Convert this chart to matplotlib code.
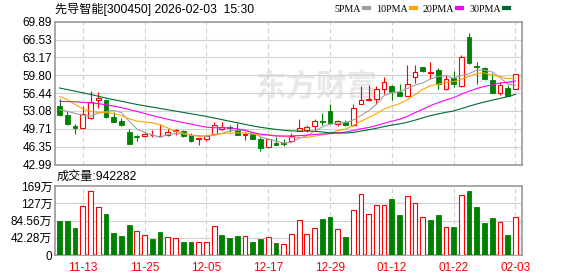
import matplotlib
matplotlib.use("Agg")
import matplotlib.pyplot as plt
from matplotlib.lines import Line2D
import numpy as np

plt.rcParams['font.family'] = ['Liberation Sans', 'Noto Sans CJK SC', 'DejaVu Sans']

title = "先导智能[300450] 2026-02-03  15:30"

dates = ["11-10", "11-11", "11-12", "11-13", "11-14", "11-17", "11-18", "11-19", "11-20", "11-21",
         "11-24", "11-25", "11-26", "11-27", "11-28", "12-01", "12-02", "12-03", "12-04", "12-05",
         "12-08", "12-09", "12-10", "12-11", "12-12", "12-15", "12-16", "12-17", "12-18", "12-19",
         "12-22", "12-23", "12-24", "12-25", "12-26", "12-29", "12-30", "12-31", "01-05", "01-06",
         "01-07", "01-08", "01-09", "01-12", "01-13", "01-14", "01-15", "01-16", "01-19", "01-20",
         "01-21", "01-22", "01-23", "01-26", "01-27", "01-28", "01-29", "01-30", "02-02", "02-03"]
label_dates = ["11-13", "11-25", "12-05", "12-17", "12-29", "01-12", "01-22", "02-03"]

opens = [54.07, 52.33, 50.15, 49.84, 51.71, 55.20, 55.13, 52.02, 51.27, 49.16,
         48.29, 48.29, 48.47, 48.35, 48.47, 49.35, 49.22, 48.54, 47.73, 47.73,
         48.72, 49.72, 50.09, 49.53, 48.60, 48.72, 47.85, 46.36, 47.10, 47.00,
         47.50, 49.27, 49.40, 50.19, 51.20, 53.12, 50.68, 50.98, 50.50, 54.33,
         55.20, 55.37, 57.20, 57.81, 56.60, 55.80, 59.52, 61.28, 60.30, 60.86,
         57.30, 59.33, 57.69, 67.08, 61.60, 61.16, 58.85, 56.40, 57.39, 57.20]
highs = [55.32, 53.02, 50.65, 54.07, 56.75, 56.56, 55.32, 52.83, 51.71, 49.59,
         48.54, 48.97, 49.41, 50.65, 49.72, 49.72, 49.53, 48.97, 48.04, 48.60,
         51.09, 50.96, 50.47, 50.78, 49.10, 48.97, 48.17, 47.85, 48.23, 47.85,
         48.90, 51.53, 50.50, 51.53, 52.63, 54.46, 51.41, 51.41, 54.46, 57.81,
         57.93, 57.81, 59.50, 58.00, 58.20, 61.65, 61.65, 61.40, 62.26, 61.16,
         59.94, 60.67, 63.70, 67.75, 62.26, 61.28, 60.25, 58.60, 57.93, 60.06]
lows = [52.08, 50.34, 48.79, 49.84, 51.60, 53.58, 51.77, 51.00, 50.15, 46.80,
        47.35, 48.17, 48.10, 48.17, 48.29, 48.47, 48.17, 47.23, 46.74, 47.42,
        48.60, 49.53, 49.10, 48.47, 47.54, 47.70, 45.49, 46.30, 46.70, 46.50,
        47.30, 49.27, 49.20, 49.27, 50.50, 50.68, 50.19, 50.19, 50.20, 54.33,
        54.95, 54.46, 56.30, 55.07, 55.80, 55.80, 58.40, 60.43, 59.03, 57.20,
        57.00, 57.50, 57.60, 61.95, 58.12, 58.85, 56.40, 56.10, 55.80, 57.20]
closes = [52.39, 50.53, 49.95, 52.52, 54.82, 55.51, 52.02, 51.09, 50.34, 46.86,
          48.10, 48.79, 48.55, 48.42, 49.10, 49.40, 48.35, 47.35, 48.00, 48.29,
          50.47, 50.03, 49.90, 48.60, 48.70, 47.73, 46.11, 47.73, 46.73, 46.90,
          48.35, 49.95, 50.05, 51.10, 51.00, 50.80, 51.10, 50.37, 53.70, 55.07,
          55.30, 57.14, 58.60, 56.60, 55.90, 58.24, 60.43, 60.55, 60.40, 58.12,
          59.03, 58.12, 63.17, 62.08, 61.40, 59.03, 56.40, 57.93, 55.98, 60.06]
# volume in 万
volumes = [84.1, 84.1, 66.2, 120.1, 156.9, 117.6, 100.5, 53.9, 46.6, 73.5,
           58.8, 49.0, 39.2, 56.4, 44.9, 41.7, 31.9, 31.9, 31.0, 31.0,
           70.3, 49.0, 41.7, 46.6, 45.8, 31.9, 39.2, 43.3, 29.4, 26.1,
           50.7, 85.8, 50.7, 65.4, 87.4, 92.3, 63.7, 44.1, 109.5, 148.7,
           99.7, 121.7, 121.7, 137.3, 98.0, 143.8, 126.6, 92.3, 85.8, 98.0,
           67.8, 68.6, 146.2, 156.9, 117.6, 78.4, 90.7, 80.1, 49.0, 94.23]

ma5 = [53.30, 53.00, 52.60, 52.30, 52.04, 52.67, 52.96, 53.19, 52.76, 51.16,
       49.68, 49.04, 48.53, 48.14, 48.59, 48.85, 48.76, 48.52, 48.44, 48.28,
       48.49, 48.83, 49.34, 49.46, 49.54, 48.99, 48.21, 47.77, 47.40, 47.04,
       47.16, 47.93, 48.40, 49.27, 50.09, 50.58, 50.81, 50.87, 51.39, 52.21,
       53.11, 54.32, 55.96, 56.54, 56.71, 57.30, 57.95, 58.34, 59.10, 59.55,
       59.71, 59.24, 59.77, 60.10, 60.76, 60.76, 60.42, 59.37, 58.15, 57.88]
ma10 = [55.80, 55.20, 54.30, 53.50, 53.00, 52.80, 52.75, 52.60, 52.20, 51.60,
        51.17, 51.00, 50.86, 50.45, 49.88, 49.27, 48.90, 48.53, 48.29, 48.44,
        48.67, 48.80, 48.93, 48.95, 48.91, 48.74, 48.52, 48.56, 48.43, 48.29,
        48.08, 48.07, 48.09, 48.34, 48.57, 48.87, 49.37, 49.64, 50.33, 51.15,
        51.84, 52.56, 53.42, 53.97, 54.46, 55.20, 56.14, 57.15, 57.82, 58.13,
        58.50, 58.60, 59.06, 59.60, 60.15, 60.23, 59.83, 59.57, 59.13, 59.32]
ma20 = [54.90, 54.85, 54.80, 54.70, 54.60, 54.45, 54.25, 54.00, 53.70, 53.35,
        53.00, 52.60, 52.20, 51.85, 51.50, 51.20, 50.90, 50.60, 50.30, 50.02,
        49.92, 49.90, 49.90, 49.70, 49.39, 49.00, 48.71, 48.54, 48.36, 48.36,
        48.38, 48.43, 48.51, 48.64, 48.74, 48.81, 48.94, 49.10, 49.38, 49.72,
        49.96, 50.32, 50.75, 51.15, 51.51, 52.04, 52.75, 53.39, 54.08, 54.64,
        55.17, 55.58, 56.24, 56.79, 57.31, 57.72, 57.98, 58.36, 58.47, 58.72]
ma30 = [57.40, 57.10, 56.80, 56.50, 56.20, 55.85, 55.50, 55.20, 54.90, 54.60,
        54.30, 54.05, 53.80, 53.55, 53.30, 53.05, 52.80, 52.55, 52.30, 52.05,
        51.75, 51.45, 51.15, 50.85, 50.55, 50.25, 50.00, 49.80, 49.60, 49.44,
        49.31, 49.29, 49.29, 49.24, 49.12, 48.96, 48.93, 48.91, 49.02, 49.29,
        49.53, 49.81, 50.14, 50.42, 50.64, 50.94, 51.34, 51.78, 52.19, 52.52,
        52.81, 53.08, 53.52, 53.97, 54.39, 54.77, 55.11, 55.45, 55.76, 56.20]

price_ticks = [42.99, 46.35, 49.71, 53.08, 56.44, 59.80, 63.17, 66.53, 69.89]
vol_ticks = [0, 42.28, 84.56, 126.84, 169.12]
vol_tick_labels = ["0", "42.28万", "84.56万", "127万", "169万"]
last_volume = "942282"

RED = "#ff0000"
GREEN = "#008000"
GRID = "#d0d0d0"
SPINE = "#999999"
ma_styles = [("5PMA", ma5, "#a0a0a0"), ("10PMA", ma10, "#ffa500"),
             ("20PMA", ma20, "#ff00ff"), ("30PMA", ma30, "#006a35")]

x = np.arange(len(dates))
o = np.array(opens); c = np.array(closes)
up = c >= o
vol_up = np.concatenate([[up[0]], c[1:] >= c[:-1]])

fig = plt.figure(figsize=(5.78, 2.76), dpi=100)
axp = fig.add_axes([55/578, 1 - 164.5/276, 467/578, 142.8/276])
axv = fig.add_axes([55/578, 1 - 255/276, 467/578, 69/276])

w = 0.62
# candles
axp.vlines(x, lows, highs, colors=np.where(up, RED, GREEN), lw=0.8, zorder=3)
body_h = np.maximum(np.abs(c - o), 0.08)
axp.bar(x[up], body_h[up], bottom=np.minimum(o, c)[up], width=w,
        facecolor="white", edgecolor=RED, lw=0.8, zorder=4)
axp.bar(x[~up], body_h[~up], bottom=np.minimum(o, c)[~up], width=w,
        facecolor=GREEN, edgecolor=GREEN, lw=0.6, zorder=4)
for name, vals, col in ma_styles:
    axp.plot(x, vals, color=col, lw=0.8, zorder=5)

# volume
v = np.array(volumes)
axv.bar(x[vol_up], v[vol_up], width=w, facecolor="white", edgecolor=RED, lw=0.8, zorder=3)
axv.bar(x[~vol_up], v[~vol_up], width=w, facecolor=GREEN, edgecolor=GREEN, lw=0.6, zorder=3)

label_pos = [dates.index(d) for d in label_dates]
for ax in (axp, axv):
    ax.set_xlim(-0.6, 59.85)
    ax.set_xticks(label_pos)
    ax.tick_params(length=0, labelsize=8.5, pad=2)
    for xp in label_pos:
        ax.axvline(xp, color=GRID, lw=0.8, ls=(0, (4, 3)), zorder=1)
    for s in ax.spines.values():
        s.set_color(SPINE)
        s.set_linewidth(1.2)

axp.set_ylim(price_ticks[0], price_ticks[-1])
axp.set_yticks(price_ticks)
axp.set_yticklabels([f"{t:.2f}" for t in price_ticks])
axp.set_xticklabels([])
for t in price_ticks[1:-1]:
    axp.axhline(t, color=GRID, lw=0.8, zorder=1)

axv.set_ylim(0, vol_ticks[-1])
axv.set_yticks(vol_ticks)
axv.set_yticklabels(vol_tick_labels)
axv.set_xticklabels(label_dates, color=RED)
axv.tick_params(axis="x", pad=5)
for t in vol_ticks[1:-1]:
    axv.axhline(t, color=GRID, lw=0.8, zorder=1)

# watermark
axp.text(0.56, 0.54, "东方财富", transform=axp.transAxes, ha="center", va="center",
         fontsize=22, fontweight="bold", color="#e8e8e8", zorder=0)

fig.text(55/578, 1 - 9/276, title, fontsize=8.7, va="center", ha="left")
fig.text(57/578, 1 - 177/276, "成交量:" + last_volume, fontsize=8.7, va="center", ha="left")

handles = [Line2D([], [], color=col, lw=3) for _, _, col in ma_styles]
fig.legend(handles, [n for n, _, _ in ma_styles], loc="center right",
           bbox_to_anchor=(513/578, 1 - 9/276), ncol=4, markerfirst=False, frameon=False,
           handlelength=0.5, handletextpad=0.3, columnspacing=0.7, borderaxespad=0,
           prop={"family": "Liberation Serif", "size": 7.2})

fig.savefig("out.png", dpi=100)
